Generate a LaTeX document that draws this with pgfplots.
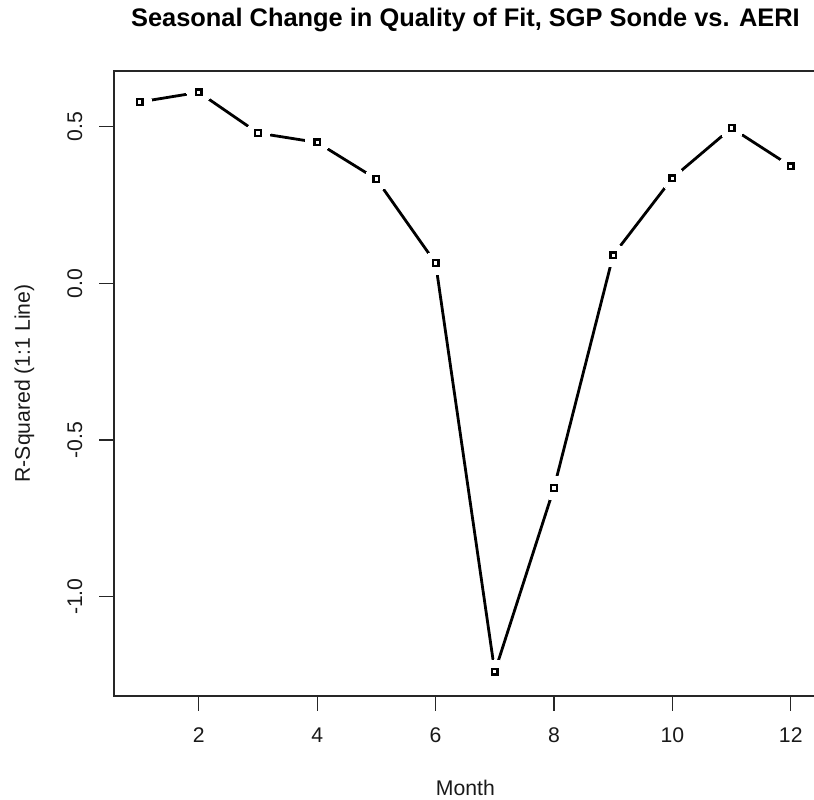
\documentclass[border=0pt]{standalone}
\usepackage{pgfplots}
\pgfplotsset{compat=1.18}
\usepackage{fontspec}
\setmainfont{Liberation Sans}

% Monthly R-squared of the 1:1 fit
\pgfplotstableread{
month  rsq
1      0.579
2      0.610
3      0.480
4      0.450
5      0.333
6      0.065
7     -1.240
8     -0.653
9      0.090
10     0.336
11     0.496
12     0.374
}\rsqdata

\begin{document}
\begin{tikzpicture}[x=1pt,y=1pt]
\path[use as bounding box, clip] (-114,-104) rectangle (700,696);
\begin{axis}[
  at={(0,0)}, anchor=south west, scale only axis,
  width=702.8pt, height=625pt,
  xmin=0.567, xmax=12.44, ymin=-1.317, ymax=0.678,
  xtick={2,4,6,8,10,12}, xticklabels={2,4,6,8,10,12},
  ytick={-1,-0.5,0,0.5}, yticklabels={-1.0,-0.5,0.0,0.5},
  xtick pos=bottom, ytick pos=left,
  tick align=outside, major tick length=14.5pt,
  every tick/.style={black!85, line width=1.3pt},
  axis line style={black!85, line width=1.3pt},
  tick label style={font=\fontsize{21.2}{25}\selectfont, inner sep=0pt, text=black!90},
  xticklabel style={anchor=north}, xticklabel shift=17.4pt,
  yticklabel style={rotate=90, anchor=base}, yticklabel shift=17.4pt,
  xlabel={Month}, ylabel={R-Squared (1:1 Line)},
  every axis x label/.style={at={(axis description cs:0.5,0)}, anchor=base, yshift=-99pt,
    font=\fontsize{21.2}{25}\selectfont, text=black!90},
  every axis y label/.style={at={(axis description cs:0,0.5)}, xshift=-84pt, rotate=90, anchor=base,
    font=\fontsize{21.2}{25}\selectfont, text=black!90},
  title={Seasonal Change in Quality of Fit, SGP Sonde vs. AERI},
  every axis title/.style={at={(axis description cs:0.5,1)}, anchor=base, yshift=44pt,
    font=\fontsize{25.4}{30}\selectfont\bfseries},
]
% connecting line, broken around each point by a white disc, then the open squares
\addplot[black, line width=2.8pt] table[x=month, y=rsq] {\rsqdata};
\addplot[white, only marks, mark=*, mark size=12pt, mark options={draw=white, fill=white, line width=0pt}] table[x=month, y=rsq] {\rsqdata};
\addplot[black, only marks, mark=square, mark size=2.8pt, mark options={line width=2.4pt, draw=black, fill=white}] table[x=month, y=rsq] {\rsqdata};
\end{axis}
\end{tikzpicture}
\end{document}
